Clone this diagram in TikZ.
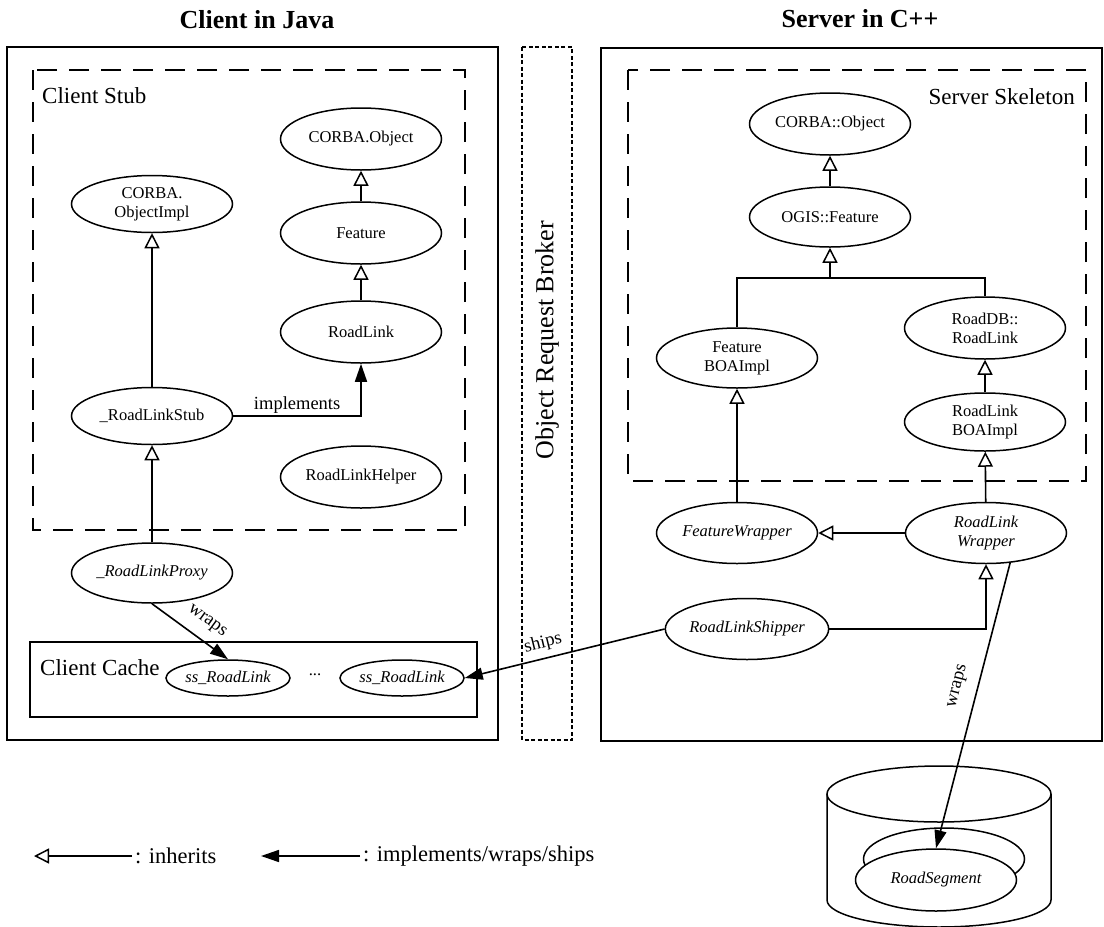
\documentclass[tikz,border=0pt]{standalone}
\usepackage{fontspec}
\setmainfont{Liberation Serif}
\usetikzlibrary{arrows.meta,shapes.geometric}
\newcommand\fNode{\fontsize{16.5}{19}\selectfont}
\newcommand\fTitle{\fontsize{26}{30}\selectfont\bfseries}
\newcommand\fBox{\fontsize{23}{27}\selectfont}
\newcommand\fOrb{\fontsize{26}{30}\selectfont}
\newcommand\fLbl{\fontsize{18.5}{21}\selectfont}
\newcommand\fLeg{\fontsize{22.5}{26}\selectfont}
\begin{document}
\begin{tikzpicture}[x=1pt,y=-1pt,
  cls/.style={draw, ellipse, line width=1.5pt, minimum width=161pt, minimum height=62pt,
    inner sep=0pt, align=center, font=\fNode, fill=white},
  icls/.style={cls, font=\fNode\itshape},
  small/.style={icls, minimum width=124pt, minimum height=36pt},
  outer/.style={draw, line width=1.8pt},
  dbox/.style={draw, line width=1.6pt, dash pattern=on 20pt off 12pt},
  orbbox/.style={draw, line width=1.5pt, dash pattern=on 4pt off 2.5pt},
  edge/.style={draw, line width=1.6pt},
  inh/.style={edge, -{Triangle[open, length=15pt, width=15pt, line width=1.5pt]}},
  impl/.style={edge, -{Triangle[length=18pt, width=12pt]}},
  lbl/.style={font=\fLbl, inner sep=2pt},
  boxlbl/.style={font=\fBox, inner sep=0pt}
]
\useasboundingbox (0,0) rectangle (1104,927);

% titles
\node[font=\fTitle] (tclient) at (257,20) {Client in Java};
\node[font=\fTitle] (tserver) at (860,19) {Server in C++};

% frames
\draw[outer] (7,47) rectangle (498,740);
\draw[outer] (601,48) rectangle (1102,741);
\draw[dbox] (33,70) rectangle (465,530);
\draw[dbox] (628,70) rectangle (1086,481);
\draw[outer] (30,642) rectangle (477,717);
\draw[orbbox] (522,47) rectangle (572,740);

\node[boxlbl, anchor=west] (lstub) at (42,96) {Client Stub};
\node[boxlbl, anchor=east] (lskel) at (1075,97) {Server Skeleton};
\node[boxlbl, anchor=west] (lcache) at (40,668) {Client Cache};
\node[font=\fOrb, rotate=90] (lorb) at (547,340) {Object Request Broker};

% client nodes
\node[cls] (co) at (361,139) {CORBA.Object};
\node[cls] (feat) at (361,233) {Feature};
\node[cls] (rl) at (361,332) {RoadLink};
\node[cls, minimum height=57pt] (coi) at (152,204) {CORBA.\\ObjectImpl};
\node[cls, minimum height=57pt] (stub) at (152,416) {\_RoadLinkStub};
\node[cls] (helper) at (361,477) {RoadLinkHelper};
\node[icls, minimum height=60pt] (proxy) at (152,573) {\_RoadLinkProxy};
\node[small] (ss1) at (228,678) {ss\_RoadLink};
\node[font=\fNode] (dots) at (315,675) {...};
\node[small] (ss2) at (402,678) {ss\_RoadLink};

% server nodes
\node[cls] (sco) at (830,124) {CORBA::Object};
\node[cls, minimum height=60pt] (ogis) at (830,217) {OGIS::Feature};
\node[cls, minimum height=60pt] (fboa) at (737,358) {Feature\\BOAImpl};
\node[cls] (rdb) at (985,328) {RoadDB::\\RoadLink};
\node[cls, minimum height=58pt] (rlboa) at (985,422) {RoadLink\\BOAImpl};
\node[icls, minimum height=61pt] (fw) at (737,533) {FeatureWrapper};
\node[icls, minimum height=61pt] (rlw) at (986,533) {RoadLink\\Wrapper};
\node[icls, minimum height=61pt] (ship) at (747,629) {RoadLinkShipper};

% database cylinder
\draw[line width=1.5pt] (827,794) -- (827,900) arc[start angle=180, end angle=0, x radius=112, y radius=27] -- (1051,794);
\draw[line width=1.5pt] (939,794) ellipse [x radius=112, y radius=28];
\node[cls] (segback) at (944,859) {};
\node[icls] (seg) at (936,880) {RoadSegment};

% client edges
\draw[inh] (feat) -- (co);
\draw[inh] (rl) -- (feat);
\draw[inh] (stub) -- (coi);
\draw[inh] (proxy) -- (stub);
\draw[impl] (stub.east) -| (rl.south) node[lbl, pos=0.25, above] {implements};
\draw[impl] (proxy.south) -- (ss1.north) node[lbl, sloped, above=9pt, pos=0.58] {wraps};
\draw[impl] (ship.west) -- (ss2.east) node[lbl, sloped, above=4pt, pos=0.59] {ships};

% server edges
\draw[inh] (ogis) -- (sco);
\coordinate (br) at (830,278);
\draw[edge] (fboa.north) |- (br) -| (rdb.north);
\draw[inh] (br) -- (ogis.south);
\draw[inh] (rlboa) -- (rdb);
\draw[inh] (fw) -- (fboa);
\draw[inh] (rlw) -- (rlboa);
\draw[inh] (rlw) -- (fw);
\draw[inh] (ship.east) -| (rlw.south);
\draw[impl] (rlw.-51) -- (seg.north) node[lbl, sloped, above=10pt, pos=0.45] {wraps};

% legend
\coordinate (la1) at (34,856);
\coordinate (la2) at (132,856);
\coordinate (lb1) at (261,856);
\coordinate (lb2) at (360,856);
\draw[inh] (la2) -- (la1);
\draw[impl] (lb2) -- (lb1);
\node[font=\fLeg, anchor=west, inner sep=2pt] (leg1) at (133,856) {: inherits};
\node[font=\fLeg, anchor=west, inner sep=2pt] (leg2) at (361,856) {: implements/wraps/ships};
\end{tikzpicture}
\end{document}
